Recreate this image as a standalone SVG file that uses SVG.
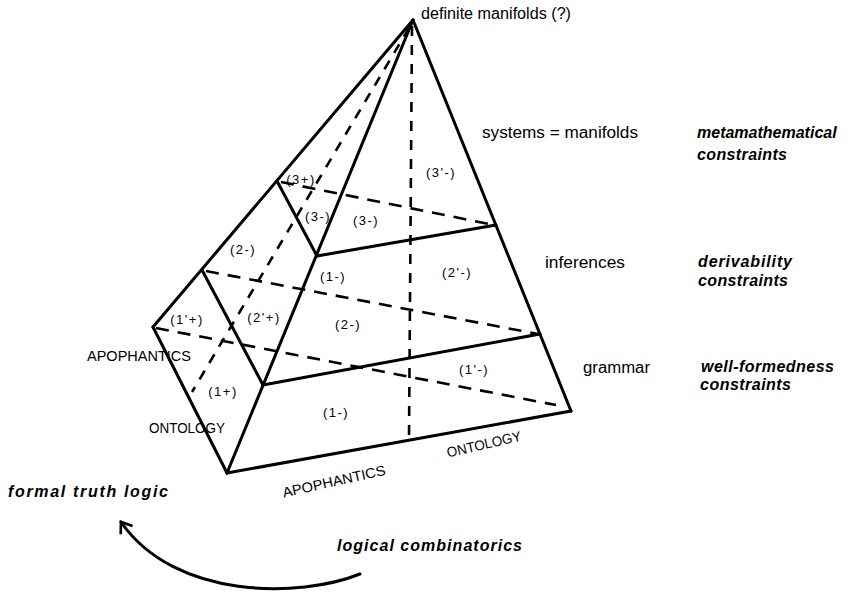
<svg xmlns="http://www.w3.org/2000/svg" width="848" height="596" viewBox="0 0 848 596">
<defs>
<style>
.solid{stroke:#000;stroke-width:3;fill:none;stroke-linecap:round;stroke-linejoin:round}
.dash{stroke:#000;stroke-width:2.6;fill:none;stroke-dasharray:13 9}
.dashv{stroke:#000;stroke-width:2.6;fill:none;stroke-dasharray:10 9}
.lbl{font-family:"Liberation Sans",Arial,sans-serif;font-size:16px;fill:#000}
.cap{font-family:"Liberation Sans",Arial,sans-serif;font-size:14px;fill:#000}
.reg{font-family:"Liberation Sans",Arial,sans-serif;font-size:13px;letter-spacing:1.5px;fill:#000}
.it{font-family:"Liberation Sans",Arial,sans-serif;font-size:16px;font-style:italic;font-weight:bold;fill:#000}
</style>
<marker id="chev" viewBox="0 0 20 20" refX="16" refY="10" markerWidth="18" markerHeight="18" markerUnits="userSpaceOnUse" orient="auto">
<path d="M5,2 L16,10 L5,18" fill="none" stroke="#000" stroke-width="3"/>
</marker>
</defs>
<rect width="848" height="596" fill="#fff"/>
<g id="connectors">
<line class="dash" x1="156" y1="328" x2="556" y2="405"/>
<line class="dash" x1="206" y1="271" x2="538" y2="334"/>
<line class="dash" x1="281" y1="182" x2="494" y2="225"/>
<line class="dashv" x1="412" y1="26" x2="409" y2="438"/>
<line class="dashv" x1="409" y1="28" x2="192" y2="392"/>
<line class="solid" x1="413" y1="20" x2="153" y2="327"/>
<line class="solid" x1="413" y1="20" x2="227" y2="473"/>
<line class="solid" x1="413" y1="20" x2="571" y2="411"/>
<line class="solid" x1="153" y1="327" x2="227" y2="473"/>
<line class="solid" x1="227" y1="473" x2="571" y2="411"/>
<line class="solid" x1="277" y1="181" x2="317" y2="256"/>
<line class="solid" x1="202" y1="270" x2="263" y2="385"/>
<line class="solid" x1="317" y1="256" x2="496" y2="225"/>
<line class="solid" x1="263" y1="385" x2="540" y2="334"/>
<path class="solid" d="M360,574 C300,598 175,600 121,522" marker-end="url(#chev)"/>
</g>
<g id="apex"><text class="lbl" x="421" y="19" textLength="150" lengthAdjust="spacingAndGlyphs">definite manifolds (?)</text></g>
<g id="level3"><text class="lbl" x="482" y="138" textLength="156" lengthAdjust="spacingAndGlyphs">systems = manifolds</text>
<text class="it" x="697" y="138">metamathematical</text><text class="it" x="697" y="160" textLength="90">constraints</text></g>
<g id="level2"><text class="lbl" x="545" y="268" textLength="80" lengthAdjust="spacingAndGlyphs">inferences</text>
<text class="it" x="698" y="267" textLength="94">derivability</text><text class="it" x="698" y="286" textLength="90">constraints</text></g>
<g id="level1"><text class="lbl" x="583" y="373" textLength="67" lengthAdjust="spacingAndGlyphs">grammar</text>
<text class="it" x="701" y="372" textLength="133">well-formedness</text><text class="it" x="700" y="390" textLength="91">constraints</text></g>
<g id="regions">
<text class="reg" x="441" y="177" text-anchor="middle">(3'-)</text>
<text class="reg" x="301" y="184" text-anchor="middle">(3+)</text>
<text class="reg" x="318" y="221" text-anchor="middle">(3-)</text>
<text class="reg" x="366" y="225" text-anchor="middle">(3-)</text>
<text class="reg" x="243" y="254" text-anchor="middle">(2-)</text>
<text class="reg" x="333" y="281" text-anchor="middle">(1-)</text>
<text class="reg" x="457" y="277" text-anchor="middle">(2'-)</text>
<text class="reg" x="187" y="324" text-anchor="middle">(1'+)</text>
<text class="reg" x="264" y="322" text-anchor="middle">(2'+)</text>
<text class="reg" x="348" y="329" text-anchor="middle">(2-)</text>
<text class="reg" x="223" y="396" text-anchor="middle">(1+)</text>
<text class="reg" x="474" y="374" text-anchor="middle">(1'-)</text>
<text class="reg" x="336" y="417" text-anchor="middle">(1-)</text>
</g>
<g id="faces">
<text class="cap" x="87" y="361" textLength="104" lengthAdjust="spacingAndGlyphs">APOPHANTICS</text>
<text class="cap" x="149" y="433" textLength="76" lengthAdjust="spacingAndGlyphs">ONTOLOGY</text>
<text class="cap" x="335" y="486" text-anchor="middle" textLength="105" lengthAdjust="spacingAndGlyphs" transform="rotate(-12.6 335 486)">APOPHANTICS</text>
<text class="cap" x="485" y="449" text-anchor="middle" textLength="76" lengthAdjust="spacingAndGlyphs" transform="rotate(-13 485 449)">ONTOLOGY</text>
</g>
<g id="bottom">
<text class="it" x="8" y="497" textLength="160">formal truth logic</text>
<text class="it" x="337" y="551" textLength="185">logical combinatorics</text>
</g>
</svg>
